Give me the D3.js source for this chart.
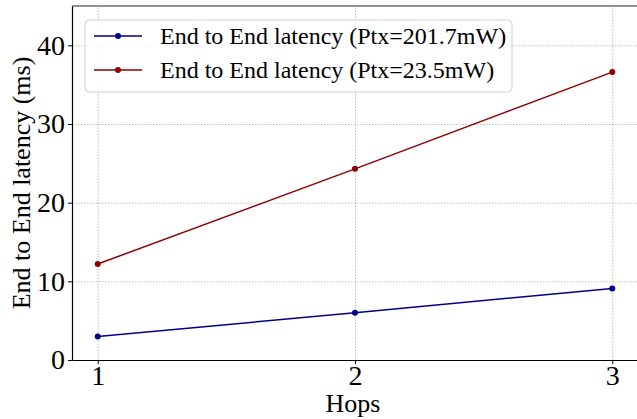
<!DOCTYPE html>
<html>
<head>
<meta charset="utf-8">
<script src="https://cdn.jsdelivr.net/npm/d3@7"></script>
<style>
  body { margin: 0; background: #fff; }
  text { font-family: "Liberation Serif", "Times New Roman", serif; fill: #000; }
  .grid line { stroke: #b0b0b0; stroke-dasharray: 1.5,1.5; stroke-width: 0.8; }
  .grid path { display: none; }
</style>
</head>
<body>
<script>
// data
var hops = [1, 2, 3];
var latencyHigh = [3.0, 6.0, 9.1];     // Ptx=201.7mW
var latencyLow = [12.2, 24.3, 36.6];   // Ptx=23.5mW
var seriesNames = ["End to End latency (Ptx=201.7mW)", "End to End latency (Ptx=23.5mW)"];
var seriesColors = ["#00008b", "#8b0000"];
var yTicks = [0, 10, 20, 30, 40];

window.onload = function() {

  // size and margins of the plot area
  var margin = { top: 6, right: -1, bottom: 59, left: 72 };
  var width = 637 - margin.left - margin.right;
  var height = 419 - margin.top - margin.bottom;

  var svg = d3.select("body")
    .append("svg")
      .attr("width", 637)
      .attr("height", 419)
    .append("g")
      .attr("transform", "translate(" + margin.left + "," + margin.top + ")");

  var xscale = d3.scaleLinear().domain([0.9, 3.1]).range([0, width]);
  var yscale = d3.scaleLinear().domain([0, 45]).range([height, 0]);

  // grid lines
  svg.append("g")
    .attr("class", "grid")
    .attr("transform", "translate(0," + height + ")")
    .call(d3.axisBottom(xscale).tickValues(hops).tickSize(-height).tickFormat(""));

  svg.append("g")
    .attr("class", "grid")
    .call(d3.axisLeft(yscale).tickValues(yTicks).tickSize(-width).tickFormat(""));

  // axes
  var xAxis = svg.append("g")
    .attr("transform", "translate(0," + height + ")")
    .call(d3.axisBottom(xscale).tickValues(hops).tickSize(4).tickSizeOuter(0).tickPadding(1).tickFormat(d3.format("d")));

  var yAxis = svg.append("g")
    .call(d3.axisLeft(yscale).tickValues(yTicks).tickSize(4).tickSizeOuter(0).tickPadding(3));

  [xAxis, yAxis].forEach(function(ax) {
    ax.selectAll("text").style("font-size", "28px").style("font-family", "Liberation Serif");
    ax.select(".domain").attr("stroke", "#000").attr("stroke-width", 1.2);
    ax.selectAll(".tick line").attr("stroke", "#000");
  });

  // top spine
  svg.append("line")
    .attr("x1", 0).attr("x2", width)
    .attr("y1", 0).attr("y2", 0)
    .attr("stroke", "#222").attr("stroke-width", 1.2);

  // lines and markers
  var series = [latencyHigh, latencyLow];
  var line = d3.line()
    .x(function(d, i) { return xscale(hops[i]); })
    .y(function(d) { return yscale(d); });

  series.forEach(function(vals, s) {
    svg.append("path")
      .datum(vals)
      .attr("fill", "none")
      .attr("stroke", seriesColors[s])
      .attr("stroke-width", 1.5)
      .attr("d", line);

    svg.selectAll(".dot" + s)
      .data(vals)
      .enter().append("circle")
      .attr("cx", function(d, i) { return xscale(hops[i]); })
      .attr("cy", function(d) { return yscale(d); })
      .attr("r", 3)
      .attr("fill", seriesColors[s]);
  });

  // legend
  var legend = svg.append("g")
    .attr("transform", "translate(13,14)");

  legend.append("rect")
    .attr("width", 427)
    .attr("height", 72)
    .attr("rx", 4)
    .attr("fill", "rgba(255,255,255,0.8)")
    .attr("stroke", "#d0d0d0");

  seriesNames.forEach(function(name, s) {
    var row = legend.append("g")
      .attr("transform", "translate(0," + (16 + s * 34) + ")");
    row.append("line")
      .attr("x1", 9).attr("x2", 57)
      .attr("stroke", seriesColors[s])
      .attr("stroke-width", 1.5);
    row.append("circle")
      .attr("cx", 33).attr("r", 3)
      .attr("fill", seriesColors[s]);
    row.append("text")
      .attr("x", 75)
      .attr("dy", "0.35em")
      .style("font-size", "24px")
      .text(name);
  });

  // axis labels
  svg.append("text")
    .attr("x", width / 2 - 2)
    .attr("y", height + 52)
    .attr("text-anchor", "middle")
    .style("font-size", "26px")
    .text("Hops");

  svg.append("text")
    .attr("transform", "rotate(-90)")
    .attr("x", -height / 2)
    .attr("y", -42)
    .attr("text-anchor", "middle")
    .style("font-size", "26px")
    .text("End to End latency (ms)");
};
</script>
</body>
</html>
